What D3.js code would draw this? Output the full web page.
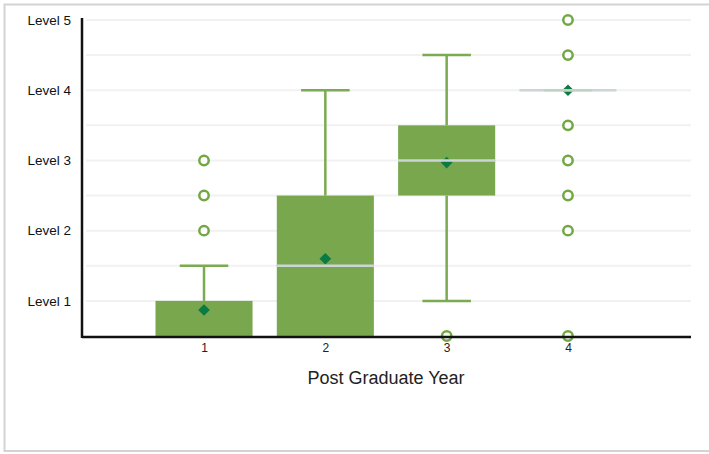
<!DOCTYPE html>
<html>
<head>
<meta charset="utf-8">
<script src="https://cdn.jsdelivr.net/npm/d3@7"></script>
<style>
  html, body { margin: 0; padding: 0; background: #fff; }
  svg { display: block; }
  text { font-family: "Liberation Sans", Arial, sans-serif; }
</style>
</head>
<body>
<svg id="chart" width="709" height="454"></svg>
<script>
// ---- data ----
const years = [1, 2, 3, 4];
const q1 = [0.5, 0.5, 2.5, 4.0];
const q3 = [1.0, 2.5, 3.5, 4.0];
const medians = [0.5, 1.5, 3.0, 4.0];
const means = [0.87, 1.6, 2.97, 4.0];
const whiskerLow = [0.5, 0.5, 1.0, 4.0];
const whiskerHigh = [1.5, 4.0, 4.5, 4.0];
const outliers = [[2, 2.5, 3], [], [0.5], [0.5, 2, 2.5, 3, 3.5, 4.5, 5]];
const yTickValues = [1, 2, 3, 4, 5];
const yTickLabels = ["Level 1", "Level 2", "Level 3", "Level 4", "Level 5"];
const gridValues = [1, 1.5, 2, 2.5, 3, 3.5, 4, 4.5, 5];
const xTitle = "Post Graduate Year";

// ---- setup ----
const svg = d3.select("#chart");
const x = d3.scaleLinear().domain([0, 5]).range([82.7, 689.3]);
const y = d3.scaleLinear().domain([0.5, 5]).range([336, 20]);
const boxW = x(0.8) - x(0);
const capW = x(0.4) - x(0);

const boxFill = "#78a74e";
const lineCol = "#7aab50";
const outCol = "#72a844";
const meanCol = "#0b7a43";
const medCol = "#cbd5d8";

// outer border
svg.append("rect").attr("x", 4.5).attr("y", 4.5).attr("width", 710).attr("height", 446.5)
  .attr("fill", "none").attr("stroke", "#d3d3d3").attr("stroke-width", 2);

// gridlines
svg.append("g").selectAll("line").data(gridValues).join("line")
  .attr("x1", 86).attr("x2", 691)
  .attr("y1", d => y(d)).attr("y2", d => y(d))
  .attr("stroke", "#f1f1f1").attr("stroke-width", 2);

// y axis labels via d3 axis
const yAxis = d3.axisLeft(y).tickValues(yTickValues)
  .tickFormat((d, i) => yTickLabels[i]).tickSize(0).tickPadding(11);
const gy = svg.append("g").attr("transform", "translate(82,0)").call(yAxis);
gy.select(".domain").remove();
gy.selectAll("text").attr("font-size", 13.5).attr("fill", "#111")
  .style("font-family", "'Liberation Sans', Arial, sans-serif");

// whiskers
years.forEach((yr, i) => {
  const cx = x(yr);
  if (whiskerHigh[i] > q3[i]) {
    svg.append("line").attr("x1", cx).attr("x2", cx)
      .attr("y1", y(q3[i])).attr("y2", y(whiskerHigh[i]))
      .attr("stroke", lineCol).attr("stroke-width", 2.5);
    svg.append("line").attr("x1", cx - capW / 2).attr("x2", cx + capW / 2)
      .attr("y1", y(whiskerHigh[i])).attr("y2", y(whiskerHigh[i]))
      .attr("stroke", lineCol).attr("stroke-width", 2.5);
  }
  if (whiskerLow[i] < q1[i]) {
    svg.append("line").attr("x1", cx).attr("x2", cx)
      .attr("y1", y(q1[i])).attr("y2", y(whiskerLow[i]))
      .attr("stroke", lineCol).attr("stroke-width", 2.5);
    svg.append("line").attr("x1", cx - capW / 2).attr("x2", cx + capW / 2)
      .attr("y1", y(whiskerLow[i])).attr("y2", y(whiskerLow[i]))
      .attr("stroke", lineCol).attr("stroke-width", 2.5);
  }
});

// boxes
svg.append("g").selectAll("rect").data(years.filter((d, i) => q3[i] > q1[i])).join("rect")
  .attr("x", d => x(d) - boxW / 2)
  .attr("y", d => y(q3[years.indexOf(d)]))
  .attr("width", boxW)
  .attr("height", d => y(q1[years.indexOf(d)]) - y(q3[years.indexOf(d)]))
  .attr("fill", boxFill);

// outliers
const outPts = [];
years.forEach((yr, i) => outliers[i].forEach(v => outPts.push({ yr, v })));
svg.append("g").selectAll("circle").data(outPts).join("circle")
  .attr("cx", d => x(d.yr)).attr("cy", d => y(d.v)).attr("r", 4.7)
  .attr("fill", "#fff").attr("stroke", outCol).attr("stroke-width", 2.5);

// mean diamonds
svg.append("g").selectAll("path").data(years).join("path")
  .attr("d", d3.symbol(d3.symbolSquare, 68))
  .attr("transform", (d, i) => `translate(${x(d)},${y(means[i])}) rotate(45)`)
  .attr("fill", meanCol);

// medians
years.forEach((yr, i) => {
  if (medians[i] > q1[i] || q3[i] === q1[i]) {
    svg.append("line").attr("x1", x(yr) - boxW / 2).attr("x2", x(yr) + boxW / 2)
      .attr("y1", y(medians[i])).attr("y2", y(medians[i]))
      .attr("stroke", medCol).attr("stroke-width", 2.4);
    if (q3[i] === q1[i]) {
      svg.append("line").attr("x1", x(yr) - capW / 2).attr("x2", x(yr) + capW / 2)
        .attr("y1", y(medians[i])).attr("y2", y(medians[i]))
        .attr("stroke", "#bfd3c2").attr("stroke-width", 2.4);
    }
  }
});

// x axis labels
const xAxis = d3.axisBottom(x).tickValues(years).tickFormat(d3.format("d")).tickSize(0).tickPadding(6);
const gx = svg.append("g").attr("transform", `translate(0,${y(0.5) + 1})`).call(xAxis);
gx.select(".domain").remove();
gx.selectAll("text").attr("font-size", 12).attr("fill", "#222")
  .style("font-family", "'Liberation Sans', Arial, sans-serif");

// axis lines
svg.append("line").attr("x1", 82).attr("x2", 691).attr("y1", 337).attr("y2", 337)
  .attr("stroke", "#111").attr("stroke-width", 2.5);
svg.append("line").attr("x1", 82).attr("x2", 82).attr("y1", 18).attr("y2", 338)
  .attr("stroke", "#111").attr("stroke-width", 2.5);

svg.append("text").attr("x", 386).attr("y", 384).attr("text-anchor", "middle")
  .attr("font-size", 18).attr("fill", "#222").text(xTitle);
</script>
</body>
</html>
